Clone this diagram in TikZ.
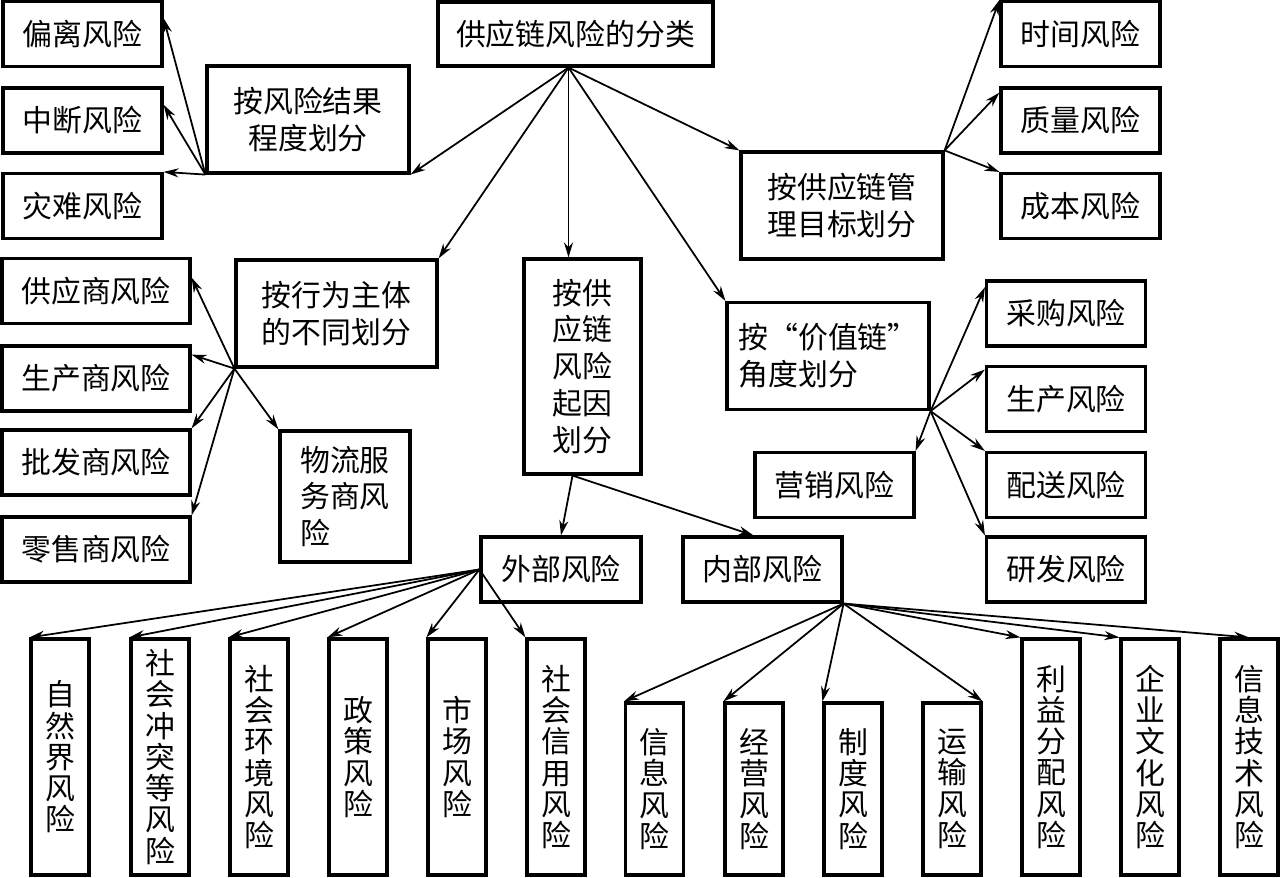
\documentclass[tikz,border=0pt]{standalone}
\usepackage{fontspec}
\setmainfont{Noto Sans CJK SC}
\usetikzlibrary{arrows.meta}
\tikzset{
  >={Stealth[length=3mm,width=1.8mm]},
  box/.style={draw, line width=1.8pt, align=center, inner sep=0pt, font=\fontsize{17}{21}\selectfont},
  sz/.style 2 args={minimum width=#1*0.02cm, minimum height=#2*0.02cm},
  flow/.style={->, line width=1pt},
}

\begin{document}
\begin{tikzpicture}[x=0.02cm, y=-0.02cm,
  leaf/.style={box, sz={159}{65}},
  tall/.style={box, sz={58}{#1}, font=\fontsize{17}{17.8}\selectfont}]
  \useasboundingbox (0,0) rectangle (1280,878);
  % root and first level
  \node[box, sz={275}{64}] (root) at (575.5,34) {供应链风险的分类};
  \node[box, sz={202}{107}] (jieguo) at (308,119.5) {按风险结果\\程度划分};
  \node[box, sz={201}{107}] (xingwei) at (336.5,313.5) {按行为主体\\的不同划分};
  \node[box, sz={117}{215}] (qiyin) at (582.5,366.5) {按供\\应链\\风险\\起因\\划分};
  \node[box, sz={202}{107}] (mubiao) at (842,205.5) {按供应链管\\理目标划分};
  \node[box, sz={202}{107}, align=left] (jiazhi) at (828,356) {按“价值链”\\角度划分};
  % leaves
  \foreach \y/\n/\l in {34/pianli/偏离风险, 120.5/zhongduan/中断风险, 206/zainan/灾难风险}
    \node[leaf] (\n) at (82.5,\y) {\l};
  \foreach \y/\n/\l in {34/shijian/时间风险, 120.5/zhiliang/质量风险, 206/chengben/成本风险}
    \node[leaf] (\n) at (1080.5,\y) {\l};
  \foreach \y/\n/\l in {291/gongying/供应商风险, 378.5/shengchanshang/生产商风险, 462.5/pifa/批发商风险, 549.5/lingshou/零售商风险}
    \node[box, sz={188}{65}] (\n) at (96,\y) {\l};
  \node[box, sz={130}{131}, align=left] (wuliu) at (345,496.5) {物流服\\务商风\\险};
  \foreach \y/\n/\l in {313.5/caigou/采购风险, 399/shengchan/生产风险, 485/peisong/配送风险, 569.5/yanfa/研发风险}
    \node[leaf] (\n) at (1066,\y) {\l};
  \node[leaf] (yingxiao) at (834.5,485) {营销风险};
  \node[leaf, sz={160}{65}] (waibu) at (561,569.5) {外部风险};
  \node[leaf] (neibu) at (762.5,569.5) {内部风险};
  % bottom row
  \foreach \x/\n/\l in {60/ziran/{自\\然\\界\\风\\险}, 160/chongtu/{社\\会\\冲\\突\\等\\风\\险}, 259/huanjing/{社\\会\\环\\境\\风\\险}, 358/zhengce/{政\\策\\风\\险}, 457/shichang/{市\\场\\风\\险}, 556/xinyong/{社\\会\\信\\用\\风\\险}}
    \node[tall=236] (\n) at (\x,757) {\l};
  \foreach \x/\n/\l in {654.5/xinxi/{信\\息\\风\\险}, 754/jingying/{经\\营\\风\\险}, 853/zhidu/{制\\度\\风\\险}, 952/yunshu/{运\\输\\风\\险}}
    \node[tall=172] (\n) at (\x,789) {\l};
  \foreach \x/\n/\l in {1051/liyi/{利\\益\\分\\配\\风\\险}, 1150/wenhua/{企\\业\\文\\化\\风\\险}, 1249/jishu/{信\\息\\技\\术\\风\\险}}
    \node[tall=236] (\n) at (\x,757) {\l};

  % connectors
  \coordinate (rs) at ([xshift=-0.14cm]root.south);
  \draw[flow] (rs) -- (jieguo.south east);
  \draw[flow] (rs) -- (xingwei.north east);
  \draw[flow] (rs) -- (rs |- qiyin.north);
  \draw[flow] (rs) -- (mubiao.north west);
  \draw[flow] (rs) -- (jiazhi.north west);
  \draw[flow] (jieguo.south west) -- (pianli.11);
  \draw[flow] (jieguo.south west) -- (zhongduan.11);
  \draw[flow] (jieguo.south west) -- (zainan.north east);
  \draw[flow] (mubiao.north east) -- (shijian.north west);
  \draw[flow] (mubiao.north east) -- (zhiliang.161);
  \draw[flow] (mubiao.north east) -- (chengben.north west);
  \draw[flow] (xingwei.south west) -- (gongying.8);
  \draw[flow] (xingwei.south west) -- (shengchanshang.14);
  \draw[flow] (xingwei.south west) -- (pifa.north east);
  \draw[flow] (xingwei.south west) -- (lingshou.north east);
  \draw[flow] (xingwei.south west) -- (wuliu.north west);
  \draw[flow] (jiazhi.south east) -- (caigou.162);
  \draw[flow] (jiazhi.south east) -- (shengchan.160);
  \draw[flow] (jiazhi.south east) -- (peisong.north west);
  \draw[flow] (jiazhi.south east) -- (yanfa.north west);
  \draw[flow] (jiazhi.south east) -- (yingxiao.north east);
  \coordinate (qs) at ([xshift=-0.2cm]qiyin.south);
  \draw[flow] (qs) -- (waibu.north);
  \draw[flow] (qs) -- ([xshift=-0.18cm]neibu.north);
  \foreach \n in {ziran, chongtu, huanjing, zhengce, shichang, xinyong}
    \draw[flow] (waibu.west) -- (\n.north west);
  \foreach \n in {xinxi, jingying, zhidu, liyi, wenhua}
    \draw[flow] (neibu.south east) -- (\n.north west);
  \draw[flow] (neibu.south east) -- (yunshu.north east);
  \draw[flow] (neibu.south east) -- (jishu.north);
\end{tikzpicture}
\end{document}
